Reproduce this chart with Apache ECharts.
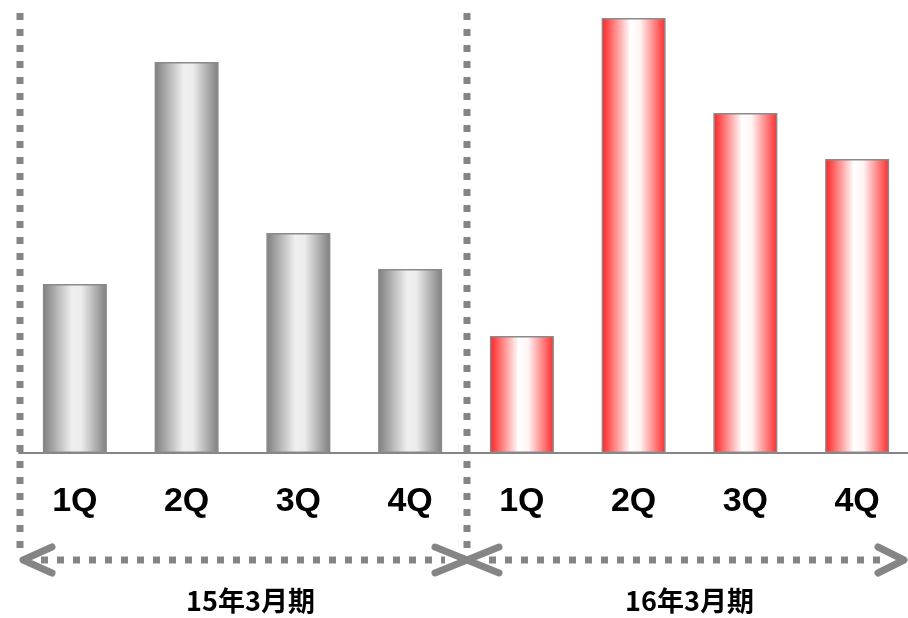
<!DOCTYPE html>
<html>
<head>
<meta charset="utf-8">
<style>
  html, body { margin: 0; padding: 0; background: #fff; }
  #chart { width: 908px; height: 618px; }
</style>
<script src="https://cdn.jsdelivr.net/npm/echarts@6/dist/echarts.min.js"></script>
</head>
<body>
<div id="chart"></div>
<script>
// Quarterly figures for two fiscal years
const quarters = ['1Q', '2Q', '3Q', '4Q', '1Q', '2Q', '3Q', '4Q'];
const periods = ['15年3月期', '16年3月期'];
const fy15 = [169, 391, 220, 184];
const fy16 = [117, 435, 340, 294];

const FONT = "'Noto Sans CJK JP', 'Noto Sans', sans-serif";
const LATIN = "'Liberation Sans', Arial, sans-serif";
const GREY = '#858585';

const fy15Series = fy15.concat(['-', '-', '-', '-']);
const fy16Series = ['-', '-', '-', '-'].concat(fy16);

const greyFill = new echarts.graphic.LinearGradient(0, 0, 1, 0, [
  { offset: 0, color: '#7e7e7e' },
  { offset: 0.45, color: '#efefef' },
  { offset: 0.6, color: '#ececec' },
  { offset: 1, color: '#7e7e7e' }
]);
const redFill = new echarts.graphic.LinearGradient(0, 0, 1, 0, [
  { offset: 0, color: '#ff2020' },
  { offset: 0.45, color: '#ffffff' },
  { offset: 0.6, color: '#fff4f4' },
  { offset: 1, color: '#ff2a2a' }
]);

const chart = echarts.init(document.getElementById('chart'), null, { renderer: 'canvas' });

chart.setOption({
  animation: false,
  backgroundColor: '#fff',
  grid: {
    left: 19, top: 13, width: 894, height: 440,
    containLabel: false, outerBoundsMode: 'none'
  },
  xAxis: [
    {
      type: 'category',
      data: quarters,
      axisLine: { show: true, lineStyle: { color: GREY, width: 2 } },
      axisTick: { show: false },
      axisLabel: {
        color: '#000', fontSize: 34, fontWeight: 'bold', fontFamily: LATIN,
        margin: 32, interval: 0
      }
    },
    {
      type: 'category',
      data: periods,
      position: 'bottom',
      axisLine: { show: false },
      axisTick: { show: false },
      axisLabel: {
        color: '#000', fontSize: 27, fontWeight: 'bold', fontFamily: FONT,
        margin: 134, interval: 0,
        formatter: (v, i) => i === 0 ? '{a|' + v + '}' : v,
        rich: { a: { fontSize: 27, fontWeight: 'bold', fontFamily: FONT, color: '#000', padding: [0, 0, 0, 16] } }
      }
    }
  ],
  yAxis: {
    type: 'value', min: 0, max: 440,
    show: false, splitLine: { show: false }
  },
  series: [
    {
      name: '15年3月期', type: 'bar', data: fy15Series,
      barWidth: 64, barGap: '-100%',
      itemStyle: { color: greyFill, borderColor: '#8a8a8a', borderWidth: 1.5 }
    },
    {
      name: '16年3月期', type: 'bar', data: fy16Series,
      barWidth: 64, barGap: '-100%',
      itemStyle: { color: redFill, borderColor: '#8a8a8a', borderWidth: 1.5 }
    }
  ]
});

// Period separators and the double-headed span arrows, placed from the category axis
function drawFrame() {
  const c0 = chart.convertToPixel({ xAxisIndex: 0 }, 0);
  const c1 = chart.convertToPixel({ xAxisIndex: 0 }, 1);
  const band = c1 - c0;
  const left = c0 - band / 2;
  const mid = left + band * 4;
  const right = left + band * 8;
  const top = chart.convertToPixel({ yAxisIndex: 0 }, 440);
  const arrowY = 560;
  const dots = { stroke: GREY, lineWidth: 7, lineDash: [7, 9], lineCap: 'butt' };
  const head = { stroke: GREY, lineWidth: 7, lineCap: 'round', lineJoin: 'round', fill: null };
  const leftX = left + 1;
  const midX = mid + 1;
  const rightX = Math.min(right, 906);
  const elements = [
    { type: 'line', shape: { x1: leftX, y1: top, x2: leftX, y2: 552 }, style: dots, z: 1 },
    { type: 'line', shape: { x1: midX, y1: top, x2: midX, y2: 552 }, style: dots, z: 1 },
    { type: 'line', shape: { x1: leftX + 21, y1: arrowY, x2: midX - 22, y2: arrowY }, style: dots, z: 1 },
    { type: 'line', shape: { x1: midX + 22, y1: arrowY, x2: rightX - 20, y2: arrowY }, style: dots, z: 1 },
    { type: 'polyline', shape: { points: [[leftX + 32, arrowY - 13], [leftX + 3, arrowY], [leftX + 32, arrowY + 13]] }, style: head, z: 2 },
    { type: 'polyline', shape: { points: [[midX - 32, arrowY - 13], [midX, arrowY], [midX - 32, arrowY + 13]] }, style: head, z: 2 },
    { type: 'polyline', shape: { points: [[midX + 32, arrowY - 13], [midX, arrowY], [midX + 32, arrowY + 13]] }, style: head, z: 2 },
    { type: 'polyline', shape: { points: [[rightX - 28, arrowY - 13], [rightX - 2, arrowY], [rightX - 28, arrowY + 13]] }, style: head, z: 2 }
  ];
  chart.setOption({ graphic: { elements: elements } });
}
drawFrame();
</script>
</body>
</html>
